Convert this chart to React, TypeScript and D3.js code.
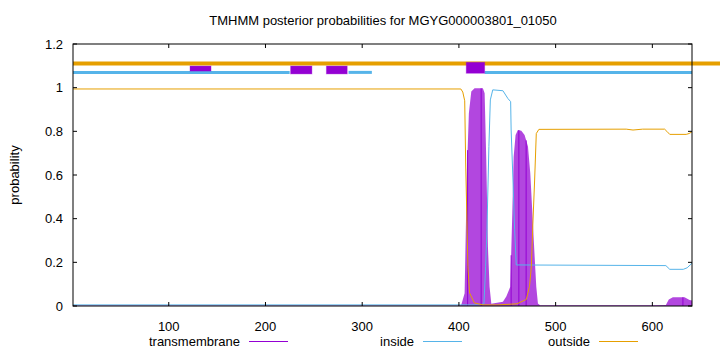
import React from 'react';
import * as d3 from 'd3';

const WIDTH = 720;
const HEIGHT = 352;
const MARGIN = { top: 44, right: 28, bottom: 46, left: 73 };

const TITLE = 'TMHMM posterior probabilities for MGYG000003801_01050';

// residue positions / posterior values
const tmPos = [1, 400, 402.4, 405.9, 408.3, 410.3, 412.8, 416.2, 424.8, 426.6, 428.3, 430, 431.7, 433.5, 445.5, 449, 453.1, 455.2, 456.6, 458.6, 461, 464.5, 467.9, 471.4, 473.8, 476.5, 478.3, 480, 481.7, 484, 600, 614, 617, 621.2, 633.3, 638.5, 641];
const tmProb = [0.002, 0.002, 0.005, 0.058, 0.623, 0.883, 0.982, 0.997, 0.997, 0.974, 0.669, 0.272, 0.088, 0.01, 0.02, 0.043, 0.088, 0.425, 0.684, 0.783, 0.806, 0.803, 0.783, 0.73, 0.608, 0.379, 0.226, 0.088, 0.012, 0.003, 0.003, 0.005, 0.03, 0.04, 0.04, 0.027, 0.025];

const insidePos = [1, 400, 421, 425.9, 427.6, 429, 431, 432.5, 435, 445.5, 450.7, 453.5, 454, 455.9, 457.6, 459.3, 614, 618, 632, 636, 641];
const insideProb = [0.005, 0.005, 0.005, 0.01, 0.18, 0.35, 0.73, 0.944, 0.99, 0.986, 0.95, 0.936, 0.806, 0.577, 0.35, 0.188, 0.185, 0.168, 0.168, 0.175, 0.196];

const outsidePos = [1, 402, 404, 406, 407, 408.3, 409.3, 411, 416, 425, 440, 460, 469.7, 473, 474.9, 476.5, 478.3, 480, 482.7, 573, 580, 590, 612.7, 615, 618, 635, 638, 641];
const outsideProb = [0.994, 0.994, 0.98, 0.94, 0.655, 0.39, 0.18, 0.06, 0.014, 0.005, 0.005, 0.01, 0.03, 0.09, 0.18, 0.38, 0.577, 0.79, 0.809, 0.81, 0.806, 0.81, 0.81, 0.8, 0.786, 0.786, 0.79, 0.798];

// dark impulse strokes inside the transmembrane fill
const tmImpulses = [409, 423, 454, 462, 469.5, 631.6];

// predicted topology drawn above the plot
const tmSegments = [
  { start: 122, end: 143.7, lo: 1.076, hi: 1.099 },
  { start: 226, end: 248, lo: 1.063, hi: 1.099 },
  { start: 263, end: 284.5, lo: 1.063, hi: 1.099 },
  { start: 407.6, end: 426.6, lo: 1.066, hi: 1.116 },
];
const insideSegments = [
  [1, 225],
  [285.9, 310],
  [426.6, 641],
];
const OUTSIDE_LEVEL = 1.111;
const INSIDE_LEVEL = 1.07;

const xTicks = [100, 200, 300, 400, 500, 600];
const yTicks = [0, 0.2, 0.4, 0.6, 0.8, 1, 1.2];

const PURPLE = '#9400d3';
const BLUE = '#56b4e9';
const ORANGE = '#e69f00';
const FONT = '"Liberation Sans", Arial, sans-serif';

const App = () => {
  const x = d3.scaleLinear().domain([1, 641]).range([MARGIN.left, WIDTH - MARGIN.right]);
  const y = d3.scaleLinear().domain([0, 1.2]).range([HEIGHT - MARGIN.bottom, MARGIN.top]);

  const tm = tmPos.map((p, i) => [p, tmProb[i]] as [number, number]);
  const inside = insidePos.map((p, i) => [p, insideProb[i]] as [number, number]);
  const outside = outsidePos.map((p, i) => [p, outsideProb[i]] as [number, number]);

  const line = d3
    .line<[number, number]>()
    .x((d) => x(d[0]))
    .y((d) => y(d[1]));
  const area = d3
    .area<[number, number]>()
    .x((d) => x(d[0]))
    .y0(y(0))
    .y1((d) => y(d[1]));

  const tmAt = (p: number) => {
    const i = d3.bisectLeft(tmPos, p);
    if (i <= 0) return tmProb[0];
    const t = (p - tmPos[i - 1]) / (tmPos[i] - tmPos[i - 1]);
    return tmProb[i - 1] + t * (tmProb[i] - tmProb[i - 1]);
  };

  const x0 = x.range()[0];
  const x1 = x.range()[1];
  const y0 = y.range()[0];
  const y1 = y.range()[1];
  const TICK = 4;

  const legend = [
    { label: 'transmembrane', color: PURPLE, end: 240 },
    { label: 'inside', color: BLUE, end: 414 },
    { label: 'outside', color: ORANGE, end: 590 },
  ];

  return (
    <svg
      width={WIDTH}
      height={HEIGHT}
      style={{ position: 'absolute', left: 0, top: 0, background: '#fff' }}
      fontFamily={FONT}
    >
      <defs>
        <clipPath id="plot-area">
          <rect x={x0} y={y1} width={x1 - x0} height={y0 - y1} />
        </clipPath>
      </defs>

      <text x={383} y={25} textAnchor="middle" fontSize={13}>
        {TITLE}
      </text>

      <g clipPath="url(#plot-area)">
        <path d={area(tm) as string} fill={PURPLE} fillOpacity={0.72} />
        {tmImpulses.map((p, i) => (
          <line key={i} x1={x(p)} x2={x(p)} y1={y(0)} y2={y(tmAt(p))} stroke={PURPLE} strokeWidth={1} />
        ))}
        <path d={line(inside) as string} fill="none" stroke={BLUE} strokeWidth={1} />
        <path d={line(outside) as string} fill="none" stroke={ORANGE} strokeWidth={1} />
      </g>

      {/* topology */}
      <line
        x1={x(1)}
        x2={WIDTH}
        y1={y(OUTSIDE_LEVEL)}
        y2={y(OUTSIDE_LEVEL)}
        stroke={ORANGE}
        strokeWidth={4}
      />
      {insideSegments.map(([s, e], i) => (
        <line key={i} x1={x(s)} x2={x(e)} y1={y(INSIDE_LEVEL)} y2={y(INSIDE_LEVEL)} stroke={BLUE} strokeWidth={3} />
      ))}
      {tmSegments.map((s, i) => (
        <rect
          key={i}
          x={x(s.start)}
          y={y(s.hi)}
          width={x(s.end) - x(s.start)}
          height={y(s.lo) - y(s.hi)}
          fill={PURPLE}
          stroke={PURPLE}
          strokeOpacity={0.35}
          strokeWidth={1}
        />
      ))}

      {/* frame + ticks */}
      <rect x={x0} y={y1} width={x1 - x0} height={y0 - y1} fill="none" stroke="#000" strokeWidth={1} />
      {xTicks.map((t) => (
        <g key={t}>
          <line x1={x(t)} x2={x(t)} y1={y0} y2={y0 - TICK} stroke="#000" />
          <line x1={x(t)} x2={x(t)} y1={y1} y2={y1 + TICK} stroke="#000" />
          <text x={x(t)} y={y0 + 25} textAnchor="middle" fontSize={13}>
            {t}
          </text>
        </g>
      ))}
      {yTicks.map((t) => (
        <g key={t}>
          <line x1={x0} x2={x0 + TICK} y1={y(t)} y2={y(t)} stroke="#000" />
          <line x1={x1} x2={x1 - TICK} y1={y(t)} y2={y(t)} stroke="#000" />
          <text x={x0 - 10} y={y(t) + 4.5} textAnchor="end" fontSize={13}>
            {d3.format('~g')(t)}
          </text>
        </g>
      ))}
      <text transform={`translate(19, ${(y0 + y1) / 2}) rotate(-90)`} textAnchor="middle" fontSize={13}>
        probability
      </text>

      {/* legend */}
      {legend.map((l) => (
        <g key={l.label}>
          <text x={l.end} y={346} textAnchor="end" fontSize={13}>
            {l.label}
          </text>
          <line x1={l.end + 9} x2={l.end + 48} y1={341.5} y2={341.5} stroke={l.color} strokeWidth={1} />
        </g>
      ))}
    </svg>
  );
};

export default App;
